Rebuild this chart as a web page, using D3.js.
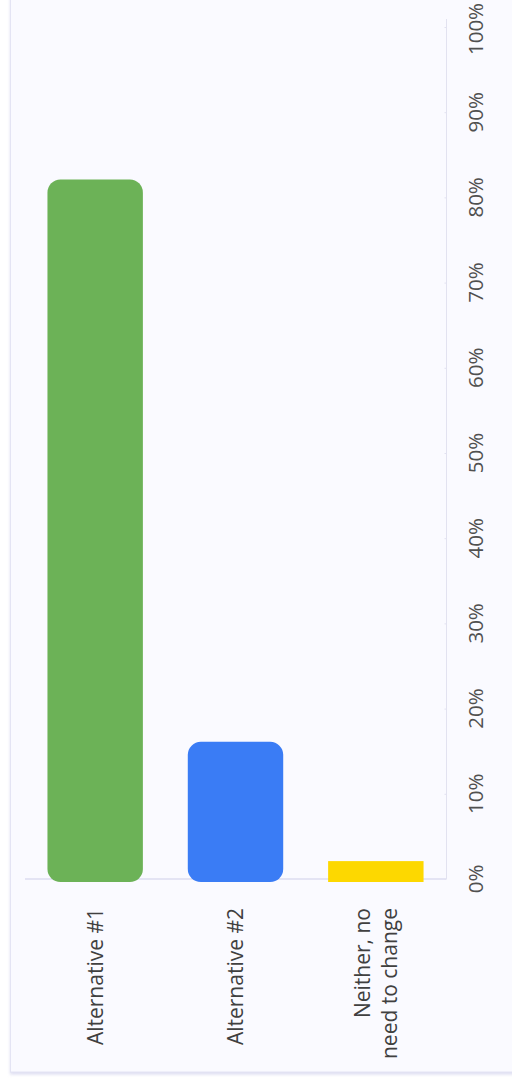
<!DOCTYPE html>
<html>
<head>
<meta charset="utf-8">
<script src="https://cdn.jsdelivr.net/npm/d3@7"></script>
<style>
  html, body { margin: 0; padding: 0; background: #ffffff; }
  svg { display: block; }
</style>
</head>
<body>
<div id="chart"></div>
<script>
// ---- data ----
const categories = ["Alternative #1", "Alternative #2", "Neither, no need to change"];
const categoryLines = [["Alternative #1"], ["Alternative #2"], ["Neither, no", "need to change"]];
const values = [82.1, 16.1, 2.1];
const colors = ["#6cb257", "#3a7cf5", "#fdd800"];
const tickValues = [0, 10, 20, 30, 40, 50, 60, 70, 80, 90, 100];
const tickLabels = ["0%", "10%", "20%", "30%", "40%", "50%", "60%", "70%", "80%", "90%", "100%"];

const W = 512, H = 1086;
const svg = d3.select("#chart").append("svg").attr("width", W).attr("height", H);

// panel
const defs = svg.append("defs");
const f = defs.append("filter").attr("id", "sh").attr("x", "-5%").attr("y", "-5%").attr("width", "110%").attr("height", "110%");
f.append("feDropShadow").attr("dx", 0).attr("dy", 2).attr("stdDeviation", 1.5).attr("flood-color", "#c8c8e8").attr("flood-opacity", 0.6);
svg.append("rect").attr("x", 10.5).attr("y", -20).attr("width", W + 20).attr("height", 1072 + 20)
  .attr("fill", "#fafaff").attr("stroke", "#e4e4f4").attr("stroke-width", 1).attr("filter", "url(#sh)");

const y = d3.scaleLinear().domain([0, 100]).range([879, 27]);
const x = d3.scaleBand().domain(categories).range([25, 446]).paddingInner(0.32).paddingOuter(0.16);

// baseline
svg.append("line").attr("x1", 25).attr("x2", 446).attr("y1", y(0)).attr("y2", y(0))
  .attr("stroke", "#dcdcf0").attr("stroke-width", 1.5);

// value axis (right side)
const axis = d3.axisLeft(y).tickValues(tickValues).tickSize(2).tickFormat("");
const ag = svg.append("g").attr("transform", "translate(446.5,0)").call(axis);
ag.select(".domain").remove();
ag.append("line").attr("x1", 0).attr("x2", 0).attr("y1", 19).attr("y2", y(0)).attr("stroke", "#e2e2f0");
ag.selectAll(".tick line").attr("stroke", "#e2e2f0");

svg.append("g").selectAll("text").data(tickValues).join("text")
  .attr("transform", (d) => `translate(476,${Math.max(y(d), 29)}) rotate(-90)`)
  .attr("text-anchor", "middle")
  .attr("dy", "0.35em")
  .attr("font-family", "'Open Sans', sans-serif")
  .attr("font-size", 20.5)
  .attr("fill", "#505050")
  .text((d, i) => tickLabels[i]);

// bars
const r = 13;
svg.append("g").selectAll("rect").data(values).join("rect")
  .attr("x", (d, i) => x(categories[i]))
  .attr("width", x.bandwidth())
  .attr("y", (d) => y(d))
  .attr("height", (d) => y(0) - y(d) + 3)
  .attr("rx", (d) => (y(0) - y(d) > 4 * r ? r : 0))
  .attr("fill", (d, i) => colors[i]);

// category labels (rotated)
const lg = svg.append("g");
categoryLines.forEach((lines, i) => {
  const cx = x(categories[i]) + x.bandwidth() / 2;
  const lh = 27;
  lines.forEach((ln, j) => {
    const off = (j - (lines.length - 1) / 2) * lh;
    lg.append("text")
      .attr("transform", `translate(${cx + off},908) rotate(-90)`)
      .attr("text-anchor", "end")
      .attr("dy", "0.35em")
      .attr("font-family", "'Open Sans', sans-serif")
      .attr("font-size", 21)
      .attr("fill", "#404040")
      .text(ln);
  });
});
</script>
</body>
</html>
